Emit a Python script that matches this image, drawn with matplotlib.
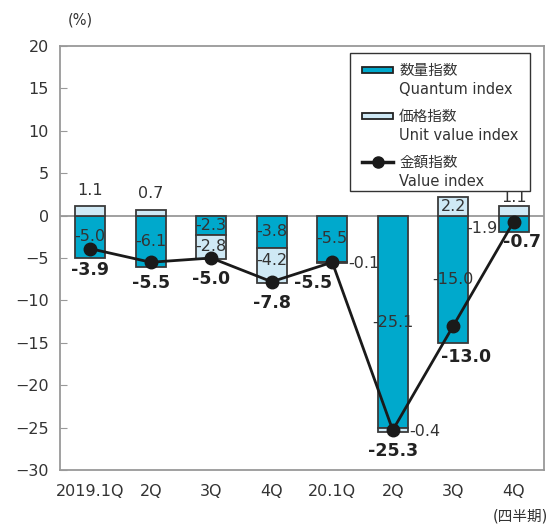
import numpy as np
import matplotlib
matplotlib.use("Agg")
from matplotlib import pyplot as plt
from matplotlib.lines import Line2D
from matplotlib.patches import Rectangle

plt.rcParams['font.family'] = ['DejaVu Sans', 'Noto Sans CJK JP']

quarters = ['2019.1Q', '2Q', '3Q', '4Q', '20.1Q', '2Q', '3Q', '4Q']
quantum = [-5.0, -6.1, -2.3, -3.8, -5.5, -25.1, -15.0, -1.9]
unit_value = [1.1, 0.7, -2.8, -4.2, -0.1, -0.4, 2.2, 1.1]
value = [-3.9, -5.5, -5.0, -7.8, -5.5, -25.3, -13.0, -0.7]
legend_ja = ['数量指数', '価格指数', '金額指数']
legend_en = ['Quantum index', 'Unit value index', 'Value index']

c_quant = '#00a9cc'
c_unit = '#cfe9f5'
c_edge = '#3a3a3a'
c_frame = '#999999'
c_text = '#333333'

fig = plt.figure(figsize=(5.54, 5.26), dpi=100)
ax = fig.add_axes([60 / 554, 56 / 526, 484 / 554, 424 / 526])

x = np.arange(len(quarters))
w = 0.5
unit_bottom = [0 if u >= 0 else q for q, u in zip(quantum, unit_value)]

ax.bar(x, quantum, w, color=c_quant, edgecolor=c_edge, linewidth=1.3, zorder=2)
ax.bar(x, unit_value, w, bottom=unit_bottom, color=c_unit, edgecolor=c_edge,
       linewidth=1.3, zorder=2)
ax.axhline(0, color=c_frame, linewidth=1.3, zorder=1)
ax.plot(x, value, color='#1a1a1a', linewidth=2, marker='o', markersize=9, zorder=4)

fs = 11.5
# quantum labels
for i, q in enumerate(quantum):
    if i == 7:
        ax.text(x[i] - w / 2 - 0.02, q / 2 - 0.6, f'{q:.1f}', ha='right', va='center',
                fontsize=fs, color=c_text, zorder=5)
    else:
        ax.text(x[i], q / 2, f'{q:.1f}', ha='center', va='center',
                fontsize=fs, color=c_text, zorder=5)

# unit value labels
for i, (u, b) in enumerate(zip(unit_value, unit_bottom)):
    if abs(u) < 0.5:
        ax.text(x[i] + w / 2 + 0.02, b + u, f'{u:.1f}', ha='left', va='center',
                fontsize=fs, color=c_text, zorder=5)
    elif 0 < u < 2:
        off = 0.15 if i == 7 else 1.0
        ax.text(x[i], b + u + off, f'{u:.1f}', ha='center', va='bottom',
                fontsize=fs, color=c_text, zorder=5)
    else:
        ax.text(x[i], b + u / 2 + (0.6 if u < -3 else 0), f'{u:.1f}', ha='center',
                va='center', fontsize=fs, color=c_text, zorder=5)

# value labels
offsets = [(0, -1.4, 'center'), (0, -1.4, 'center'), (0, -1.4, 'center'),
           (0, -1.4, 'center'), (0.0, -1.4, 'right'), (0, -1.4, 'center'),
           (-0.2, -2.6, 'left'), (-0.17, -1.4, 'left')]
for i, v in enumerate(value):
    dx, dy, ha = offsets[i]
    ax.text(x[i] + dx, v + dy, f'{v:.1f}', ha=ha, va='top', fontsize=12.5,
            fontweight='bold', color='#222222', zorder=5)

ax.set_xlim(-0.5, len(quarters) - 0.5)
ax.set_ylim(-30, 20)
ax.set_yticks(np.arange(-30, 21, 5))
ax.set_xticks(x)
ax.set_xticklabels(quarters, fontsize=11.5, color=c_text)
ax.tick_params(axis='y', direction='in', length=5, color=c_frame, labelsize=11.5,
               labelcolor=c_text, pad=8)
ax.tick_params(axis='x', length=0, pad=10)
for s in ax.spines.values():
    s.set_color(c_frame)
    s.set_linewidth(1.3)

fig.text(80 / 554, 1 - 20 / 526, '(%)', ha='center', va='center', fontsize=10.5,
         color=c_text)
fig.text(520 / 554, 1 - 516 / 526, '(四半期)', ha='center', va='center', fontsize=10.5,
         color=c_text)


# legend drawn by hand, positions in pixels of the axes box
def axpos(px, py):
    return (px - 60) / 484, (470 - py) / 424


x0, y0 = axpos(350, 191)
x1, y1 = axpos(530, 53)
ax.add_patch(Rectangle((x0, y0), x1 - x0, y1 - y0, transform=ax.transAxes,
                       facecolor='white', edgecolor='#333333', linewidth=1.0,
                       zorder=6))
rows = [70, 116, 162]
for k, py in enumerate(rows):
    hx, hy = axpos(362, py + 3)
    hx2, hy2 = axpos(393, py - 3)
    if k < 2:
        ax.add_patch(Rectangle((hx, hy), hx2 - hx, hy2 - hy, transform=ax.transAxes,
                               facecolor=c_quant if k == 0 else c_unit,
                               edgecolor='#222222', linewidth=1.3, zorder=7))
    else:
        lx, ly = axpos(362, py)
        lx2, _ = axpos(393, py)
        ax.add_line(Line2D([lx, lx2], [ly, ly], transform=ax.transAxes,
                           color='#1a1a1a', linewidth=2.5, zorder=7))
        ax.add_line(Line2D([(lx + lx2) / 2], [ly], transform=ax.transAxes,
                           color='#1a1a1a', marker='o', markersize=8, zorder=7))
    tx, ty = axpos(399, py)
    ax.text(tx, ty, legend_ja[k], transform=ax.transAxes, ha='left', va='center',
            fontsize=10.5, color=c_text, zorder=7)
    tx, ty = axpos(399, py + 19)
    ax.text(tx, ty, legend_en[k], transform=ax.transAxes, ha='left', va='center',
            fontsize=10.5, color=c_text, zorder=7)

fig.savefig('out.png', dpi=100)
